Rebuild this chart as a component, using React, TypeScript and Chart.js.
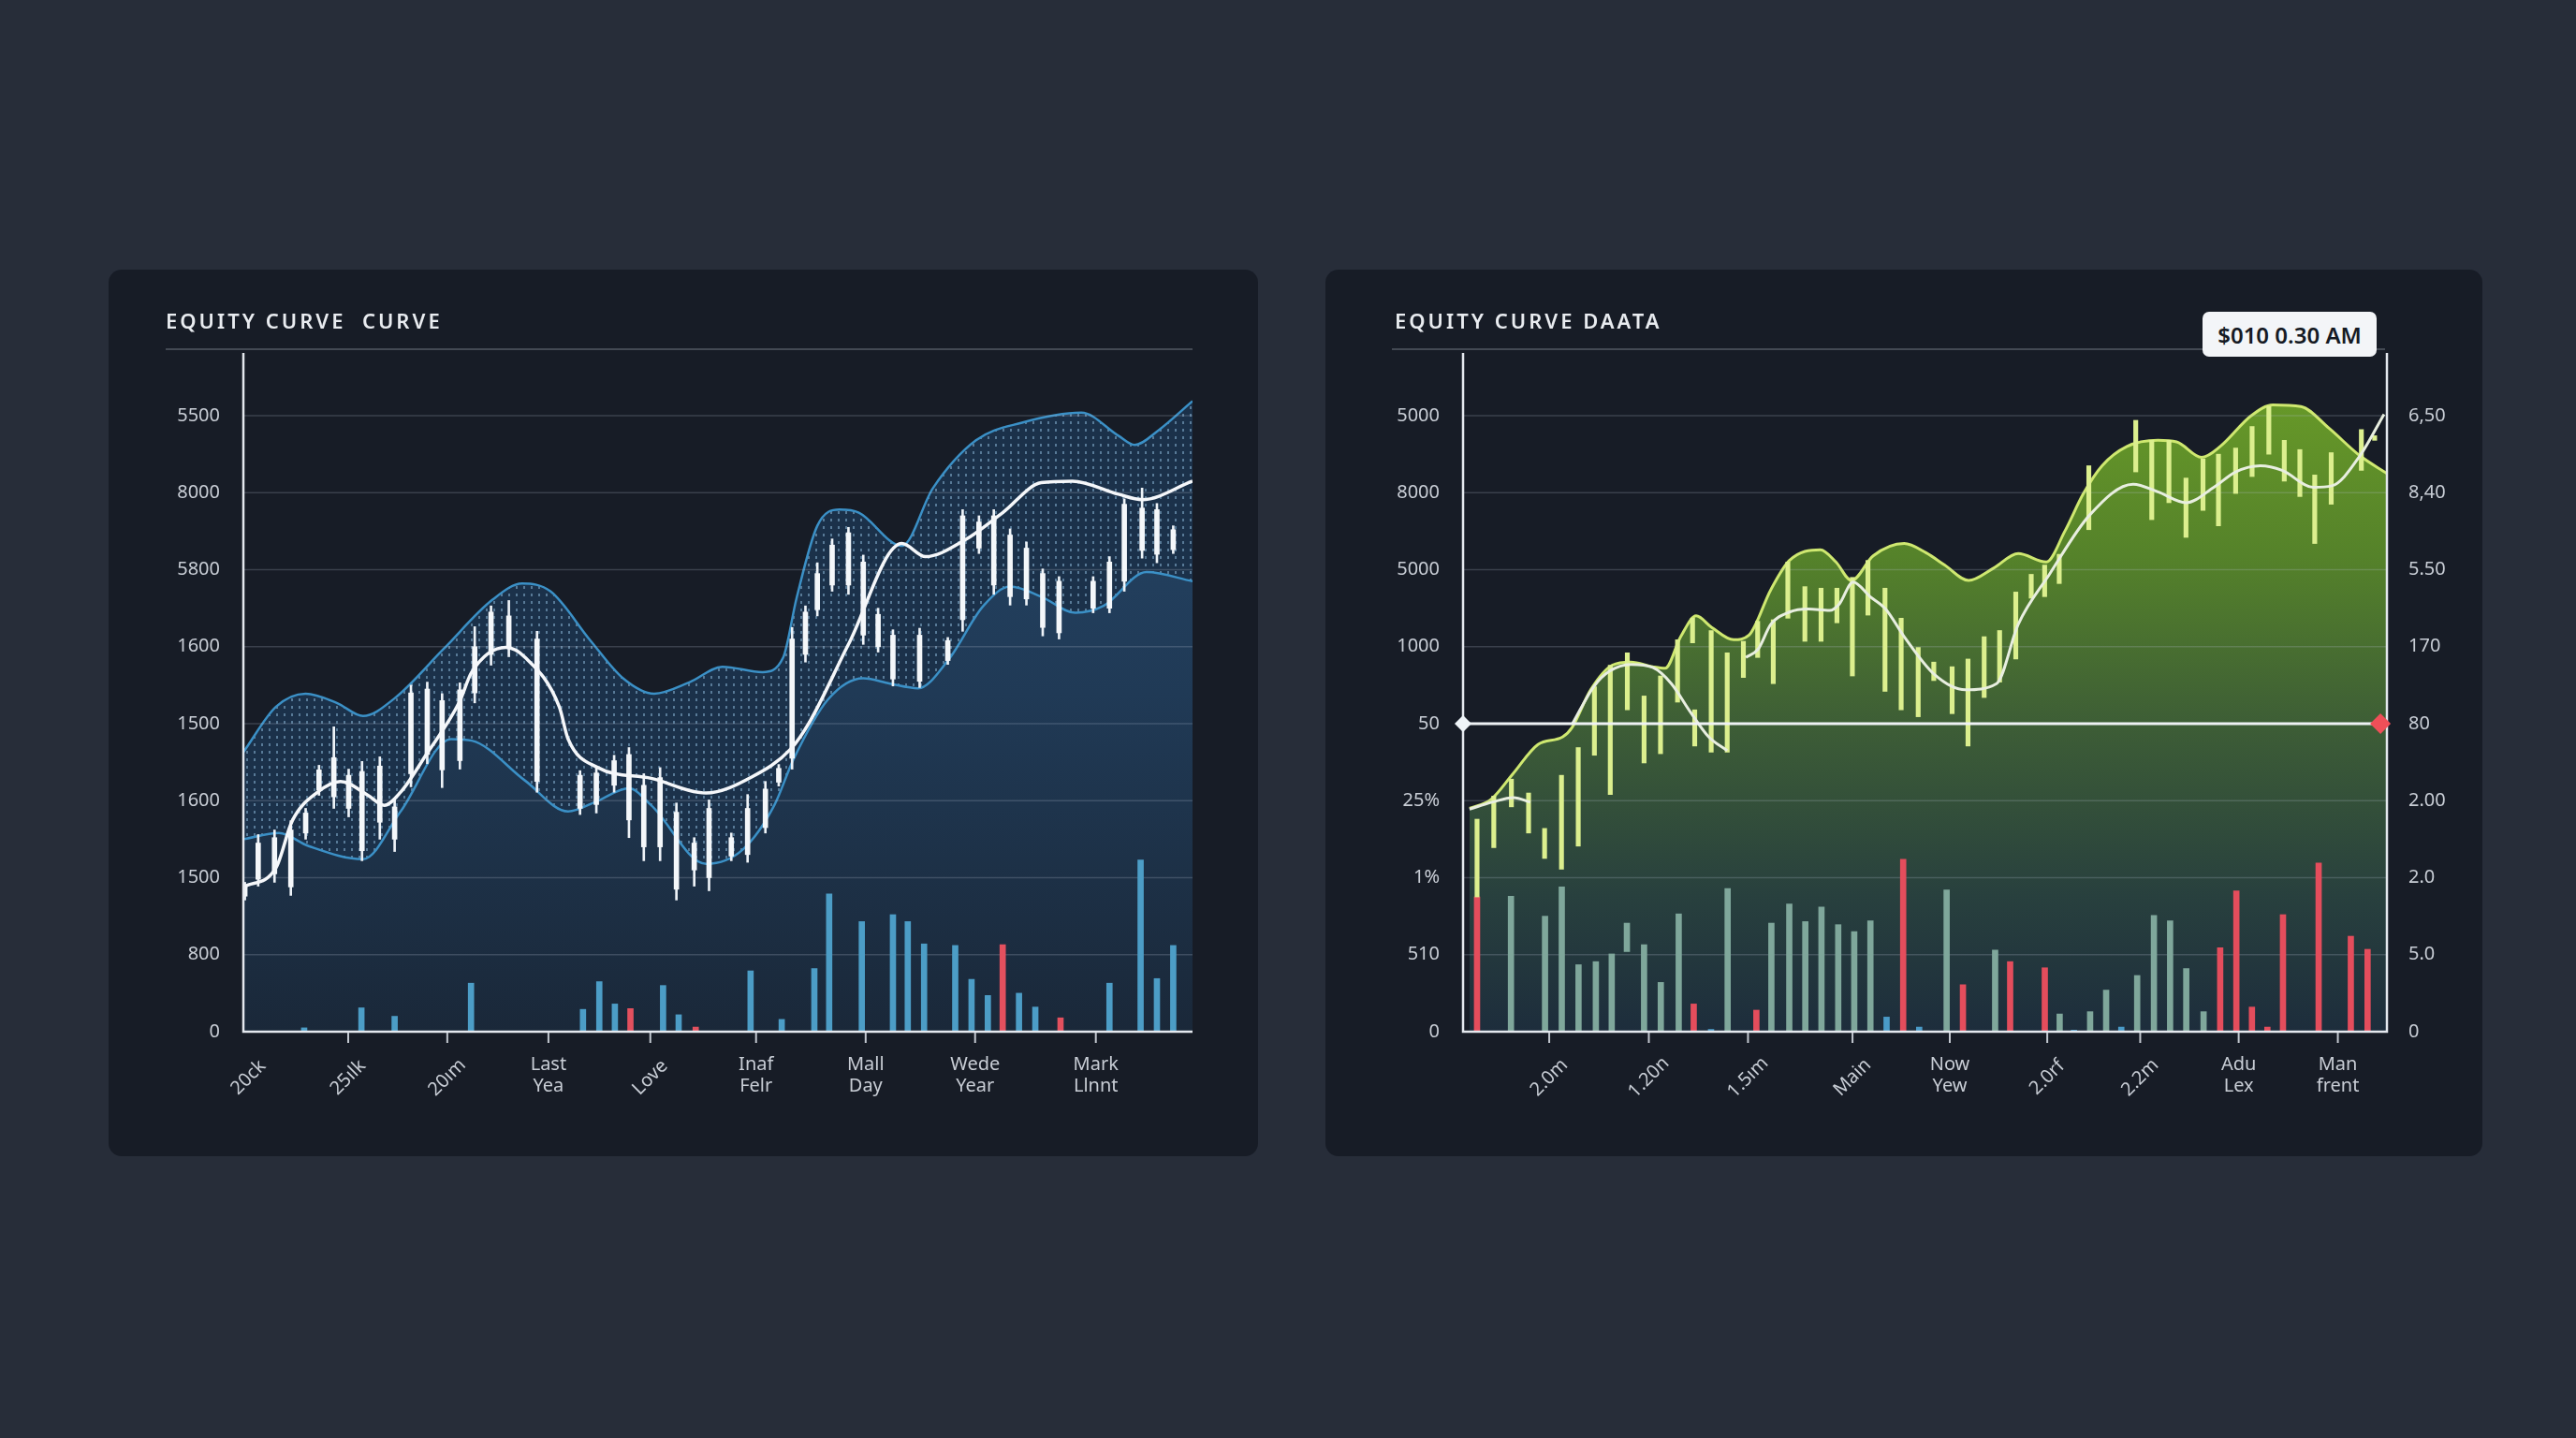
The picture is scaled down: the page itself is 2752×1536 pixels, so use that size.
import React, { useEffect, useRef } from "react";
import { Chart, registerables } from "chart.js";

Chart.register(...registerables);

const FONT = '"Noto Sans", "Open Sans", sans-serif';

// ---------------- LEFT PANEL DATA ----------------
const leftTitle = "EQUITY CURVE  CURVE";
const leftYLabels = ["0", "800", "1500", "1600", "1500", "1600", "5800", "8000", "5500"];
const leftXTickPos = [0.35, 7.07, 13.75, 20.57, 27.44, 34.57, 41.96, 49.34, 57.48];
const leftXLabels = ["20ck", "25ılk", "20ım", "Last\nYea", "Love", "Inaf\nFelr", "Mall\nDay", "Wede\nYear", "Mark\nLlnnt"];
const leftXRotated = [true, true, true, false, true, false, false, false, false];

const bandUpperX = [0, 2.2, 4.2, 6.3, 8.07, 10.2, 13.5, 16.8, 18.8, 20.7, 23.4, 25.6, 27.7, 30.1, 32.3, 35.0, 36.4, 37.3, 38.7, 40.2, 41.5, 44.4, 46.5, 49.4, 52.5, 56.5, 59.0, 60.1, 61.7, 64];
const bandUpperY = [3.63, 4.22, 4.39, 4.27, 4.10, 4.33, 4.97, 5.61, 5.82, 5.72, 5.08, 4.59, 4.39, 4.54, 4.74, 4.67, 4.86, 5.63, 6.57, 6.78, 6.74, 6.31, 7.06, 7.68, 7.91, 8.04, 7.74, 7.62, 7.81, 8.19];

const bandLowerX = [0, 2.4, 4.4, 8.07, 10.6, 14.0, 15.4, 19.0, 21.9, 23.8, 26.0, 27.5, 31.2, 33.7, 35.8, 37.1, 39.4, 41.8, 43.6, 45.5, 47.5, 49.9, 51.7, 53.8, 56.1, 58.0, 60.9, 64];
const bandLowerY = [2.50, 2.58, 2.41, 2.24, 2.86, 3.80, 3.78, 3.26, 2.86, 2.99, 3.16, 2.94, 2.18, 2.37, 2.94, 3.54, 4.31, 4.59, 4.52, 4.46, 4.82, 5.53, 5.78, 5.65, 5.44, 5.53, 5.97, 5.85];

const leftMaX = [0, 2.2, 3.3, 5.0, 6.55, 8.4, 9.5, 10.6, 12.3, 14.56, 15.4, 17.7, 19.0, 21.3, 21.9, 23.9, 27.5, 31.2, 34.3, 36.9, 38.2, 40.8, 44.4, 46.0, 48.6, 51.2, 53.8, 55.9, 59.0, 60.6, 64];
const leftMaY = [1.88, 2.13, 2.74, 3.11, 3.25, 3.07, 2.94, 3.11, 3.59, 4.28, 4.67, 4.99, 4.86, 4.22, 3.80, 3.43, 3.29, 3.10, 3.31, 3.67, 4.03, 5.03, 6.34, 6.17, 6.38, 6.74, 7.13, 7.15, 6.98, 6.91, 7.15];

const lcX = [0.1, 1.0, 2.1, 3.2, 4.2, 5.1, 6.1, 7.1, 8.0, 9.2, 10.2, 11.3, 12.4, 13.4, 14.6, 15.6, 16.7, 17.9, 19.8, 22.7, 23.8, 25.0, 26.0, 27.0, 28.1, 29.2, 30.4, 31.4, 32.9, 34.0, 35.2, 36.1, 37.0, 37.9, 38.7, 39.7, 40.8, 41.8, 42.8, 43.8, 45.6, 47.5, 48.5, 49.6, 50.6, 51.7, 52.8, 53.9, 55.0, 57.3, 58.4, 59.4, 60.6, 61.6, 62.7];
const lcHigh = [1.94, 2.56, 2.62, 2.74, 2.90, 3.46, 3.96, 3.41, 3.51, 3.57, 3.01, 4.50, 4.54, 4.39, 4.53, 5.26, 5.53, 5.60, 5.20, 3.39, 3.43, 3.59, 3.69, 3.35, 3.43, 2.97, 2.52, 3.01, 2.58, 3.08, 3.25, 3.47, 5.25, 5.53, 6.09, 6.40, 6.55, 6.19, 5.50, 5.22, 5.24, 5.12, 6.78, 6.70, 6.78, 6.53, 6.36, 6.01, 5.91, 5.91, 6.17, 6.92, 7.06, 6.86, 6.57];
const lcLow = [1.71, 1.89, 1.94, 1.77, 2.50, 3.07, 2.90, 2.79, 2.22, 2.50, 2.34, 3.18, 3.48, 3.17, 3.41, 4.27, 4.76, 4.87, 3.11, 2.82, 2.84, 3.11, 2.52, 2.22, 2.22, 1.71, 1.89, 1.83, 2.22, 2.20, 2.58, 3.19, 3.41, 4.80, 5.40, 5.72, 5.68, 5.03, 4.93, 4.49, 4.47, 4.77, 5.20, 6.21, 5.68, 5.54, 5.54, 5.14, 5.10, 5.44, 5.44, 5.72, 6.15, 6.09, 6.21];
const lcBodyTop = [1.90, 2.45, 2.52, 2.62, 2.84, 3.40, 3.56, 3.33, 3.38, 3.45, 2.92, 4.40, 4.45, 4.30, 4.44, 5.00, 5.45, 5.40, 5.10, 3.33, 3.36, 3.52, 3.60, 3.20, 3.30, 2.85, 2.45, 2.90, 2.52, 2.90, 3.15, 3.42, 5.10, 5.45, 5.95, 6.32, 6.48, 6.10, 5.42, 5.15, 5.15, 5.08, 6.70, 6.62, 6.70, 6.45, 6.28, 5.95, 5.85, 5.85, 6.10, 6.85, 6.80, 6.78, 6.52];
const lcBodyBottom = [1.76, 1.98, 2.05, 1.88, 2.58, 3.14, 3.05, 2.90, 2.35, 2.72, 2.50, 3.35, 3.60, 3.40, 3.52, 4.40, 4.90, 4.98, 3.25, 2.90, 2.95, 3.20, 2.75, 2.40, 2.40, 1.85, 2.10, 2.00, 2.28, 2.30, 2.65, 3.24, 3.55, 4.90, 5.48, 5.80, 5.80, 5.15, 5.00, 4.58, 4.55, 4.82, 5.35, 6.28, 5.80, 5.65, 5.62, 5.25, 5.18, 5.50, 5.50, 5.85, 6.25, 6.20, 6.26];

const lvX = [4.1, 7.96, 10.2, 15.35, 22.9, 24.0, 25.05, 26.1, 28.3, 29.35, 30.5, 34.2, 36.3, 38.5, 39.5, 41.7, 43.8, 44.8, 45.9, 48.0, 49.1, 50.2, 51.2, 52.3, 53.4, 55.1, 58.4, 60.5, 61.6, 62.7];
const lvY = [0.05, 0.31, 0.20, 0.63, 0.29, 0.65, 0.36, 0.30, 0.60, 0.22, 0.06, 0.79, 0.16, 0.82, 1.79, 1.43, 1.52, 1.43, 1.14, 1.12, 0.68, 0.47, 1.13, 0.50, 0.32, 0.18, 0.63, 2.23, 0.69, 1.12];
const lvRed = [0, 0, 0, 0, 0, 0, 0, 1, 0, 0, 1, 0, 0, 0, 0, 0, 0, 0, 0, 0, 0, 0, 1, 0, 0, 1, 0, 0, 0, 0];

// ---------------- RIGHT PANEL DATA ----------------
const rightTitle = "EQUITY CURVE DAATA";
const rightTooltip = "$010 0.30 AM";
const rightYLabelsL = ["0", "510", "1%", "25%", "50", "1000", "5000", "8000", "5000"];
const rightYLabelsR = ["0", "5.0", "2.0", "2.00", "80", "170", "5.50", "8,40", "6,50"];
const rightXTickPos = [5.97, 12.87, 19.74, 26.98, 33.72, 40.47, 46.91, 53.73, 60.6];
const rightXLabels = ["2.0m", "1.20n", "1.5ım", "Main", "Now\nYew", "2.0rf", "2.2m", "Adu\nLex", "Man\nfrent"];
const rightXRotated = [true, true, true, true, false, true, true, false, false];
const rightRefLine = 4;
const rightRefMarkerX = 63.55;

const greenX = [0.45, 1.96, 3.46, 5.19, 6.91, 7.55, 8.84, 10.34, 11.63, 13.14, 14.0, 15.08, 16.15, 17.23, 18.74, 19.81, 21.32, 22.61, 24.75, 25.83, 26.91, 28.41, 30.56, 32.07, 33.36, 35.02, 36.75, 38.46, 40.4, 41.69, 42.98, 44.27, 45.99, 48.14, 49.43, 51.16, 52.45, 54.6, 56.1, 58.04, 59.97, 62.13, 64];
const greenY = [2.90, 3.02, 3.35, 3.73, 3.83, 3.95, 4.44, 4.76, 4.80, 4.74, 4.72, 5.13, 5.40, 5.25, 5.09, 5.15, 5.74, 6.12, 6.26, 6.10, 5.86, 6.18, 6.34, 6.22, 6.06, 5.86, 6.02, 6.21, 6.10, 6.50, 6.99, 7.35, 7.60, 7.68, 7.66, 7.46, 7.60, 8.00, 8.14, 8.12, 7.84, 7.48, 7.25];

const rightMaX = [0.45, 2.0, 3.5, 4.66, 5.5, 7.55, 9.05, 10.13, 11.63, 13.14, 14.43, 15.72, 17.01, 18.3, 19.0, 19.59, 20.45, 21.32, 22.61, 23.9, 25.4, 26.05, 27.02, 28.2, 29.27, 30.56, 32.65, 34.8, 36.96, 38.46, 40.62, 43.41, 46.42, 48.14, 50.08, 52.01, 53.52, 55.24, 56.74, 58.9, 60.19, 62.13, 63.8];
const rightMaY = [2.89, 2.98, 3.04, 2.98, null, 3.99, 4.48, 4.68, 4.77, 4.73, 4.52, 4.16, 3.83, 3.65, null, 4.86, 4.97, 5.29, 5.45, 5.49, 5.47, 5.55, 5.84, 5.65, 5.49, 5.13, 4.64, 4.44, 4.52, 5.29, 5.94, 6.71, 7.11, 7.01, 6.87, 7.07, 7.27, 7.35, 7.29, 7.07, 7.09, 7.48, 8.02];

const rcX = [0.97, 2.13, 3.35, 4.54, 5.65, 6.82, 7.98, 9.1, 10.2, 11.38, 12.54, 13.68, 14.86, 15.9, 16.05, 17.19, 18.3, 19.42, 20.41, 21.49, 22.5, 23.68, 24.8, 25.9, 26.97, 28.05, 29.23, 30.35, 31.53, 32.61, 33.88, 34.98, 36.1, 37.17, 38.29, 39.36, 40.29, 41.3, 43.35, 46.6, 47.71, 48.9, 50.08, 51.26, 52.33, 53.52, 54.66, 55.82, 56.89, 57.97, 59.0, 60.14, 62.23, 63.15];
const rcLow = [1.75, 2.39, 2.92, 2.58, 2.25, 2.11, 2.41, 3.59, 3.08, 4.18, 3.49, 3.61, 4.28, 5.05, 3.71, 3.63, 3.63, 4.60, 4.86, 4.52, 5.37, 5.07, 5.07, 5.31, 4.62, 5.41, 4.42, 4.18, 4.09, 4.56, 4.13, 3.71, 4.34, 4.54, 4.84, 5.63, 5.65, 5.82, 6.52, 7.27, 6.65, 6.87, 6.42, 6.77, 6.57, 6.99, 7.21, 7.50, 7.15, 6.95, 6.34, 6.85, 7.29, 7.68];
const rcHigh = [2.76, 3.06, 3.28, 3.10, 2.64, 3.33, 3.69, 4.48, 4.76, 4.92, 4.36, 4.62, 5.09, 5.37, 4.18, 5.21, 4.92, 5.07, 5.33, 5.35, 6.10, 5.78, 5.76, 5.76, 5.90, 6.12, 5.76, 5.37, 4.99, 4.80, 4.74, 4.84, 5.13, 5.21, 5.71, 5.94, 6.06, 6.20, 7.35, 7.94, 7.68, 7.68, 7.19, 7.44, 7.50, 7.58, 7.86, 8.12, 7.68, 7.56, 7.23, 7.52, 7.82, 7.74];

const rvX = [0.97, 3.32, 5.68, 6.84, 8.0, 9.2, 10.3, 11.35, 12.54, 13.7, 14.94, 15.98, 17.18, 18.33, 20.32, 21.36, 22.6, 23.71, 24.83, 25.99, 27.1, 28.22, 29.34, 30.49, 31.6, 33.5, 34.63, 36.86, 37.9, 40.3, 41.33, 42.32, 43.44, 44.55, 45.6, 46.7, 47.86, 48.98, 50.1, 51.3, 52.45, 53.57, 54.65, 55.72, 56.8, 59.27, 61.5, 62.66];
const rvTop = [1.75, 1.76, 1.50, 1.88, 0.87, 0.91, 1.01, 1.41, 1.13, 0.64, 1.53, 0.36, 0.03, 1.86, 0.28, 1.41, 1.66, 1.43, 1.62, 1.39, 1.30, 1.44, 0.19, 2.24, 0.06, 1.84, 0.61, 1.06, 0.91, 0.83, 0.23, 0.02, 0.26, 0.54, 0.06, 0.73, 1.51, 1.44, 0.82, 0.26, 1.09, 1.83, 0.32, 0.06, 1.52, 2.19, 1.24, 1.07];
const rvBase = [0, 0, 0, 0, 0, 0, 0, 1.04, 0, 0, 0, 0, 0, 0, 0, 0, 0, 0, 0, 0, 0, 0, 0, 0, 0, 0, 0, 0, 0, 0, 0, 0, 0, 0, 0, 0, 0, 0, 0, 0, 0, 0, 0, 0, 0, 0, 0, 0];
const rvKind = ["r", "t", "t", "t", "t", "t", "t", "t", "t", "t", "t", "r", "b", "t", "r", "t", "t", "t", "t", "t", "t", "t", "b", "r", "b", "t", "r", "t", "r", "r", "t", "b", "t", "t", "b", "t", "t", "t", "t", "t", "r", "r", "r", "r", "r", "r", "r", "r"];

// ---------------- HELPERS ----------------
const pts = (xs: number[], ys: (number | null)[]) => xs.map((x, i) => ({ x, y: ys[i] }));

type AxisOpts = {
  yLeft: string[];
  yRight?: string[];
  xPos: number[];
  xText: string[];
  xRot: boolean[];
  gridAfter: number;
  refLine?: { value: number; markerX: number };
};

function axesPlugin(o: AxisOpts) {
  const labelColor = "#c8cdd5";
  return {
    id: "customAxes",
    afterDatasetDraw(chart: any, args: any) {
      if (args.index !== o.gridAfter) return;
      const { ctx, chartArea: a, scales } = chart;
      ctx.save();
      ctx.strokeStyle = "rgba(185,195,212,0.22)";
      ctx.lineWidth = 1.5;
      for (let i = 1; i < o.yLeft.length; i++) {
        const py = scales.y.getPixelForValue(i);
        ctx.beginPath();
        ctx.moveTo(a.left, py);
        ctx.lineTo(a.right, py);
        ctx.stroke();
      }
      ctx.restore();
    },
    afterDatasetsDraw(chart: any) {
      const { ctx, chartArea: a, scales } = chart;
      const xs = scales.x;
      const ys = scales.y;
      ctx.save();
      if (o.refLine) {
        const py = ys.getPixelForValue(o.refLine.value);
        ctx.strokeStyle = "#eef1f4";
        ctx.lineWidth = 3;
        ctx.beginPath();
        ctx.moveTo(a.left, py);
        ctx.lineTo(a.right, py);
        ctx.stroke();
      }
      ctx.strokeStyle = "#e4e8ee";
      ctx.lineWidth = 2.5;
      ctx.beginPath();
      ctx.moveTo(a.left, a.top);
      ctx.lineTo(a.left, a.bottom);
      ctx.lineTo(a.right, a.bottom);
      if (o.yRight) ctx.lineTo(a.right, a.top);
      ctx.stroke();
      ctx.fillStyle = labelColor;
      ctx.font = `20px ${FONT}`;
      ctx.textBaseline = "middle";
      o.yLeft.forEach((t, i) => {
        ctx.textAlign = "right";
        ctx.fillText(t, a.left - 25, ys.getPixelForValue(i));
      });
      if (o.yRight) {
        o.yRight.forEach((t, i) => {
          ctx.textAlign = "left";
          ctx.fillText(t, a.right + 23, ys.getPixelForValue(i));
        });
      }
      o.xPos.forEach((v, i) => {
        const px = xs.getPixelForValue(v);
        if (v > 1) {
          ctx.strokeStyle = "#c3c8d0";
          ctx.lineWidth = 2;
          ctx.beginPath();
          ctx.moveTo(px, a.bottom + 1);
          ctx.lineTo(px, a.bottom + 12);
          ctx.stroke();
        }
        ctx.fillStyle = labelColor;
        ctx.textAlign = "center";
        ctx.textBaseline = "middle";
        if (o.xRot[i]) {
          ctx.save();
          ctx.translate(px, a.bottom + 49);
          ctx.rotate(-Math.PI / 4);
          ctx.fillText(o.xText[i], 0, 0);
          ctx.restore();
        } else {
          o.xText[i].split("\n").forEach((line, k) => {
            ctx.fillText(line, px, a.bottom + 35 + k * 23);
          });
        }
      });
      if (o.refLine) {
        const py = ys.getPixelForValue(o.refLine.value);
        const diamond = (cx: number, r: number, color: string) => {
          ctx.fillStyle = color;
          ctx.beginPath();
          ctx.moveTo(cx, py - r);
          ctx.lineTo(cx + r, py);
          ctx.lineTo(cx, py + r);
          ctx.lineTo(cx - r, py);
          ctx.closePath();
          ctx.fill();
        };
        diamond(a.left, 9, "#eef4f8");
        diamond(xs.getPixelForValue(o.refLine.markerX), 11, "#ef4f58");
      }
      ctx.restore();
    },
  };
}

function makeDotPattern() {
  const c = document.createElement("canvas");
  c.width = 8;
  c.height = 8;
  const g = c.getContext("2d")!;
  g.fillStyle = "#1b314a";
  g.fillRect(0, 0, 8, 8);
  g.fillStyle = "rgba(150,195,228,0.5)";
  g.fillRect(3, 2, 2, 3);
  return g.createPattern(c, "repeat");
}

function vGradient(stops: [number, string][]) {
  return (c: any) => {
    const { chart } = c;
    const a = chart.chartArea;
    if (!a) return "rgba(0,0,0,0)";
    const g = chart.ctx.createLinearGradient(0, a.top, 0, a.bottom);
    stops.forEach(([p, col]) => g.addColorStop(p, col));
    return g;
  };
}

const baseOptions = (padding: any) => ({
  responsive: false,
  animation: false as const,
  devicePixelRatio: 1,
  events: [],
  layout: { padding },
  plugins: { legend: { display: false }, tooltip: { enabled: false } },
  scales: {
    x: { type: "linear" as const, min: 0, max: 64, display: false, offset: false },
    y: { type: "linear" as const, min: 0, max: 8.815, display: false },
  },
});

function leftConfig(): any {
  let pattern: any = null;
  return {
    type: "line",
    data: {
      datasets: [
        {
          type: "line",
          data: pts(bandUpperX, bandUpperY),
          borderColor: "#3b90c6",
          borderWidth: 2.5,
          pointRadius: 0,
          cubicInterpolationMode: "monotone",
          fill: "+1",
          backgroundColor: () => {
            if (!pattern) pattern = makeDotPattern();
            return pattern;
          },
          order: 10,
        },
        {
          type: "line",
          data: pts(bandLowerX, bandLowerY),
          borderColor: "#3b90c6",
          borderWidth: 2.5,
          pointRadius: 0,
          cubicInterpolationMode: "monotone",
          fill: "start",
          backgroundColor: vGradient([[0, "#264769"], [0.5, "#203a56"], [1, "#1a2839"]]),
          order: 9,
        },
        {
          type: "bar",
          data: pts(lvX, lvY),
          backgroundColor: lvRed.map((r) => (r ? "#e3505e" : "#4c9dc6")),
          barThickness: 6,
          grouped: false,
          borderWidth: 0,
          order: 8,
        },
        {
          type: "bar",
          data: lcX.map((x, i) => ({ x, y: [lcLow[i], lcHigh[i]] })),
          backgroundColor: "#eef3f8",
          barThickness: 2,
          grouped: false,
          borderWidth: 0,
          order: 7,
        },
        {
          type: "bar",
          data: lcX.map((x, i) => ({ x, y: [lcBodyBottom[i], lcBodyTop[i]] })),
          backgroundColor: "#f4f7fa",
          barThickness: 5,
          grouped: false,
          borderWidth: 0,
          order: 6,
        },
        {
          type: "line",
          data: pts(leftMaX, leftMaY),
          borderColor: "#f5f7fa",
          borderWidth: 3.5,
          pointRadius: 0,
          cubicInterpolationMode: "monotone",
          fill: false,
          order: 1,
        },
      ],
    },
    options: baseOptions({ left: 144, top: 89, right: 70, bottom: 133 }),
    plugins: [
      axesPlugin({
        yLeft: leftYLabels,
        xPos: leftXTickPos,
        xText: leftXLabels,
        xRot: leftXRotated,
        gridAfter: 1,
      }),
    ],
  };
}

function rightConfig(): any {
  const kindColor: Record<string, string> = { r: "#e44d5c", t: "#7fa79b", b: "#4a9bc8" };
  return {
    type: "line",
    data: {
      datasets: [
        {
          type: "line",
          data: pts(greenX, greenY),
          borderColor: "#cfe870",
          borderWidth: 3,
          pointRadius: 0,
          cubicInterpolationMode: "monotone",
          fill: "start",
          backgroundColor: vGradient([
            [0, "#6c9f28"],
            [0.3, "#55822a"],
            [0.55, "#3d5d36"],
            [0.8, "#28403e"],
            [1, "#1d2d3c"],
          ]),
          order: 10,
        },
        {
          type: "bar",
          data: rvX.map((x, i) => ({ x, y: [rvBase[i], rvTop[i]] })),
          backgroundColor: rvKind.map((k) => kindColor[k]),
          barThickness: 6,
          grouped: false,
          borderWidth: 0,
          order: 8,
        },
        {
          type: "bar",
          data: rcX.map((x, i) => ({ x, y: [rcLow[i], rcHigh[i]] })),
          backgroundColor: "#dcef8e",
          barThickness: 4.5,
          grouped: false,
          borderWidth: 0,
          order: 7,
        },
        {
          type: "line",
          data: pts(rightMaX, rightMaY),
          borderColor: "#e8eee0",
          borderWidth: 3,
          pointRadius: 0,
          cubicInterpolationMode: "monotone",
          spanGaps: false,
          fill: false,
          order: 1,
        },
      ],
    },
    options: baseOptions({ left: 147, top: 89, right: 102, bottom: 133 }),
    plugins: [
      axesPlugin({
        yLeft: rightYLabelsL,
        yRight: rightYLabelsR,
        xPos: rightXTickPos,
        xText: rightXLabels,
        xRot: rightXRotated,
        gridAfter: 0,
        refLine: { value: rightRefLine, markerX: rightRefMarkerX },
      }),
    ],
  };
}

function ChartCanvas({ width, height, build }: { width: number; height: number; build: () => any }) {
  const ref = useRef<HTMLCanvasElement>(null);
  useEffect(() => {
    const chart = new Chart(ref.current as HTMLCanvasElement, build());
    return () => chart.destroy();
  }, []);
  return (
    <canvas
      ref={ref}
      width={width}
      height={height}
      style={{ position: "absolute", left: 0, top: 0, width, height }}
    />
  );
}

const titleStyle: React.CSSProperties = {
  position: "absolute",
  top: 43,
  fontFamily: FONT,
  fontSize: 22,
  lineHeight: "22px",
  fontWeight: 600,
  letterSpacing: 3,
  color: "#e9ecf0",
  whiteSpace: "pre",
};

export default function App() {
  return (
    <div
      style={{
        position: "fixed",
        left: 0,
        top: 0,
        width: 2752,
        height: 1536,
        background: "#272d39",
        overflow: "hidden",
      }}
    >
      <div
        style={{
          position: "absolute",
          left: 116,
          top: 288,
          width: 1228,
          height: 947,
          background: "#171c26",
          borderRadius: 14,
        }}
      >
        <ChartCanvas width={1228} height={947} build={leftConfig} />
        <div style={{ ...titleStyle, left: 61 }}>{leftTitle}</div>
        <div
          style={{
            position: "absolute",
            left: 61,
            top: 84,
            width: 1097,
            height: 2,
            background: "rgba(200,208,220,0.25)",
          }}
        />
      </div>
      <div
        style={{
          position: "absolute",
          left: 1416,
          top: 288,
          width: 1236,
          height: 947,
          background: "#171c26",
          borderRadius: 14,
        }}
      >
        <ChartCanvas width={1236} height={947} build={rightConfig} />
        <div style={{ ...titleStyle, left: 74 }}>{rightTitle}</div>
        <div
          style={{
            position: "absolute",
            left: 71,
            top: 84,
            width: 1061,
            height: 2,
            background: "rgba(200,208,220,0.25)",
          }}
        />
        <div
          style={{
            position: "absolute",
            left: 937,
            top: 45,
            width: 186,
            height: 48,
            background: "#f3f5f8",
            borderRadius: 7,
            display: "flex",
            alignItems: "center",
            justifyContent: "center",
            fontFamily: FONT,
            fontWeight: 600,
            fontSize: 24,
            color: "#151a24",
            whiteSpace: "pre",
          }}
        >
          {rightTooltip}
        </div>
      </div>
    </div>
  );
}
